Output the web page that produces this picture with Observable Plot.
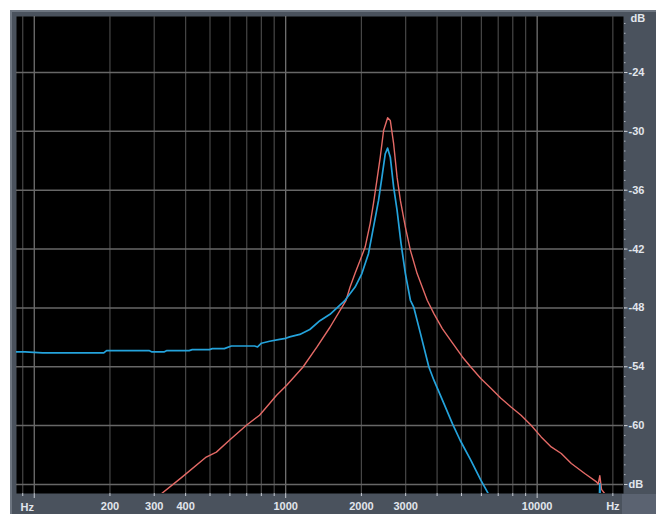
<!DOCTYPE html>
<html><head><meta charset="utf-8">
<script src="https://cdn.jsdelivr.net/npm/d3@7"></script>
<script src="https://cdn.jsdelivr.net/npm/@observablehq/plot@0.6"></script>
<style>
html,body{margin:0;padding:0;background:#fff;}
#wrap{position:absolute;left:10px;top:10px;border-top:2px solid #6d7580;border-left:2px solid #6d7580;}
#wrap svg{display:block;}
</style></head><body><div id="wrap"></div>
<script>
// Blue series (Hz, dB)
const blueFreq = [83, 92, 108, 189, 194, 286, 294, 328, 337, 413, 425, 497, 511, 570, 608, 752, 773, 801, 863, 946, 1000, 1037, 1138, 1247, 1368, 1500, 1722, 1888, 2009, 2134, 2234, 2340, 2414, 2489, 2543, 2606, 2687, 2773, 2876, 2992, 3133, 3229, 3436, 3710, 3885, 4259, 4602, 4940, 5445, 5970, 6385, 6600, 17650, 17750, 17850, 22050];
const blueDb   = [-52.49, -52.49, -52.59, -52.59, -52.35, -52.35, -52.49, -52.49, -52.35, -52.35, -52.25, -52.25, -52.15, -52.15, -51.88, -51.88, -51.98, -51.6, -51.4, -51.2, -51.1, -50.95, -50.7, -50.2, -49.3, -48.65, -47.22, -45.87, -44.5, -42.47, -39.76, -37.04, -34.67, -32.28, -31.71, -32.63, -35.68, -38.06, -41.45, -44.5, -47.22, -47.91, -50.62, -54.02, -55.37, -57.75, -59.79, -61.49, -63.52, -65.56, -66.9, -68, -68, -65.9, -68, -70];
// Red series (Hz, dB)
const redFreq = [300, 322, 387, 483, 530, 597, 698, 787, 920, 1009, 1170, 1330, 1500, 1738, 1803, 1888, 1977, 2070, 2168, 2234, 2305, 2377, 2451, 2543, 2606, 2687, 2773, 2858, 2992, 3133, 3332, 3654, 3885, 4196, 4529, 5045, 5445, 5970, 6546, 7178, 7870, 8630, 9462, 10375, 11376, 12474, 13677, 15460, 17220, 17490, 17750, 18030, 18590, 19200];
const redDb   = [-67.6, -66.9, -65.25, -63.2, -62.7, -61.5, -59.96, -58.94, -56.9, -55.88, -54.05, -52.0, -49.97, -47.22, -45.87, -44.47, -43.15, -41.8, -39.38, -37.34, -35.0, -32.63, -29.91, -28.61, -28.89, -31.26, -34.67, -37.04, -39.76, -42.13, -44.5, -47.22, -48.58, -50.11, -51.3, -53.0, -54.02, -55.2, -56.19, -57.2, -58.1, -58.94, -59.96, -61.15, -62.17, -62.84, -63.86, -64.88, -65.73, -65.95, -65.1, -66.5, -66.95, -68];

// Axis ticks
const xGridMinor = [90, 200, 300, 400, 500, 600, 700, 800, 900, 2000, 3000, 4000, 5000, 6000, 7000, 8000, 9000, 20000];
const xGridMajor = [100, 1000, 10000];
const xLabelTicks = [200, 300, 400, 600, 1000, 2000, 3000, 5000, 10000, 20000];
const xLabelText  = ["200", "300", "400", "600", "1000", "2000", "3000", "5000", "10000", "Hz"];
const yGrid = [-24, -30, -36, -42, -48, -54, -60, -66];
const yLabelText = ["-24", "-30", "-36", "-42", "-48", "-54", "-60", "dB"];
const yMinor = d3.range(-66, -18, 1);

const blue = blueFreq.map((f, i) => ({f, db: blueDb[i]}));
const red = redFreq.map((f, i) => ({f, db: redDb[i]}));
const txt = "#e2e6ec";
const font = "Liberation Sans, Arial, sans-serif";

const chart = Plot.plot({
  width: 644, height: 502,
  marginLeft: 4, marginTop: 4, marginRight: 33, marginBottom: 21,
  style: {fontFamily: font, fontSize: "11px", fontWeight: "bold", color: txt, overflow: "visible",
    background: "linear-gradient(#5b6371,#5b6371) right bottom / 34px 20px no-repeat, #4a525d"},
  x: {type: "log", domain: [85, 22050], label: null},
  y: {domain: [-66.92, -18.29], label: null},
  marks: [
    Plot.frame({fill: "black", stroke: null}),
    Plot.ruleX(xGridMinor, {stroke: "#474747", strokeWidth: 1.2}),
    Plot.ruleX(xGridMajor, {stroke: "#7a7a7a", strokeWidth: 1.2}),
    Plot.ruleY(yGrid, {stroke: "#676767", strokeWidth: 1.5}),
    Plot.line(red, {x: "f", y: "db", stroke: "#e46a66", strokeWidth: 1.4, clip: true}),
    Plot.line(blue, {x: "f", y: "db", stroke: "#24a3dc", strokeWidth: 1.7, clip: true}),
    Plot.axisX({ticks: xGridMinor, tickSize: 3, tickFormat: () => "", stroke: "#c9ced6"}),
    Plot.axisX({ticks: xGridMajor, tickSize: 5, tickFormat: () => "", stroke: "#c9ced6"}),
    Plot.axisX({ticks: xLabelTicks, tickSize: 0, tickPadding: 9, fill: txt,
      tickFormat: d => xLabelText[xLabelTicks.indexOf(d)]}),
    Plot.text(["Hz"], {frameAnchor: "bottom-left", textAnchor: "start", lineAnchor: "middle", dx: 4, dy: 14, fill: txt}),
    Plot.axisY({anchor: "right", ticks: yMinor, tickSize: 1.5, tickFormat: () => "", stroke: "#aeb4bd"}),
    Plot.axisY({anchor: "right", ticks: yGrid, tickSize: 3.5, tickPadding: 1.5, fill: txt, stroke: "#c9ced6",
      tickFormat: d => yLabelText[yGrid.indexOf(d)]}),
    Plot.text(["dB"], {frameAnchor: "top-right", textAnchor: "start", lineAnchor: "middle", dx: 7, dy: 2, fill: txt})
  ]
});
document.getElementById("wrap").appendChild(chart);
</script>
</body></html>
